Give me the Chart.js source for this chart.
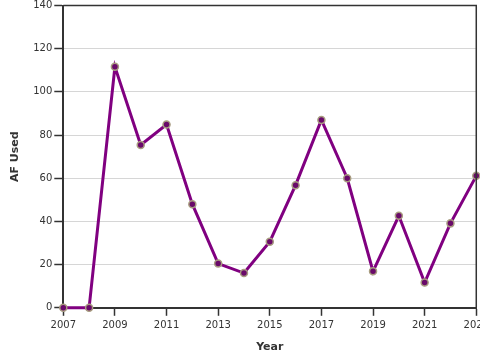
<!DOCTYPE html>
<html><head><meta charset="utf-8">
<script src="https://cdn.jsdelivr.net/npm/chart.js@4/dist/chart.umd.min.js"></script>
<style>html,body{margin:0;padding:0;overflow:hidden;background:#fff;width:480px;height:360px}
#wrap{width:480px;height:360px;overflow:hidden;position:relative}
canvas{position:absolute;left:0;top:0}</style>
</head><body><div id="wrap"><canvas id="c" width="493" height="360"></canvas></div>
<script>
const years = [2007,2008,2009,2010,2011,2012,2013,2014,2015,2016,2017,2018,2019,2020,2021,2022,2023];
const afUsed = [0,0,111.6,75.4,84.9,48,20.5,16.1,30.6,56.8,87,60,16.9,42.6,11.7,39.1,61.1];
const yTicks = [0,20,40,60,80,100,120,140];
const xTitle = 'Year';
const yTitle = 'AF Used';

const boxPlugin = {
  id:'box',
  afterDraw(chart){
    const a = chart.chartArea, ctx = chart.ctx;
    ctx.save();
    ctx.strokeStyle = '#333';
    ctx.lineWidth = 1.5;
    ctx.beginPath();
    ctx.moveTo(a.left, a.top); ctx.lineTo(a.right, a.top); ctx.lineTo(a.right, a.bottom);
    ctx.stroke();
    ctx.restore();
  }
};

new Chart(document.getElementById('c'), {
  type:'line',
  data:{
    datasets:[{
      data: years.map((y,i)=>({x:y, y:afUsed[i]})),
      borderColor:'#800080',
      borderWidth:3,
      pointRadius:3.5,
      pointBackgroundColor:'#6a0a6a',
      pointBorderColor:'#a89c80',
      pointBorderWidth:1.5,
      tension:0,
      clip:false
    }]
  },
  options:{
    responsive:false,
    animation:false,
    layout:{padding:{left:9,top:4,bottom:6,right:0}},
    plugins:{legend:{display:false},tooltip:{enabled:false}},
    scales:{
      x:{
        type:'linear',
        min:years[0], max:years[years.length-1],
        afterBuildTicks(s){ s.ticks = years.filter((y,i)=>i%2===0).map(v=>({value:v})); },
        ticks:{color:'#333',font:{family:'DejaVu Sans',size:10},maxRotation:0,padding:4,callback:v=>String(v)},
        grid:{drawOnChartArea:false,tickLength:8,tickColor:'#333',tickWidth:1.5},
        border:{color:'#333',width:2},
        title:{display:true,text:xTitle,color:'#333',font:{family:'DejaVu Sans',size:11,weight:'bold'},padding:{top:5,bottom:0}}
      },
      y:{
        min:0,max:140,
        afterBuildTicks(s){ s.ticks = yTicks.map(v=>({value:v})); },
        afterFit(s){ s.paddingTop = 0; },
        ticks:{color:'#333',font:{family:'DejaVu Sans',size:10},padding:2},
        grid:{color:'#d6d6d6',lineWidth:1,tickLength:9,tickColor:'#333',tickWidth:1.5},
        border:{color:'#333',width:2},
        title:{display:true,text:yTitle,color:'#333',font:{family:'DejaVu Sans',size:11,weight:'bold'},padding:{top:0,bottom:9}}
      }
    }
  },
  plugins:[boxPlugin]
});
</script></body></html>
